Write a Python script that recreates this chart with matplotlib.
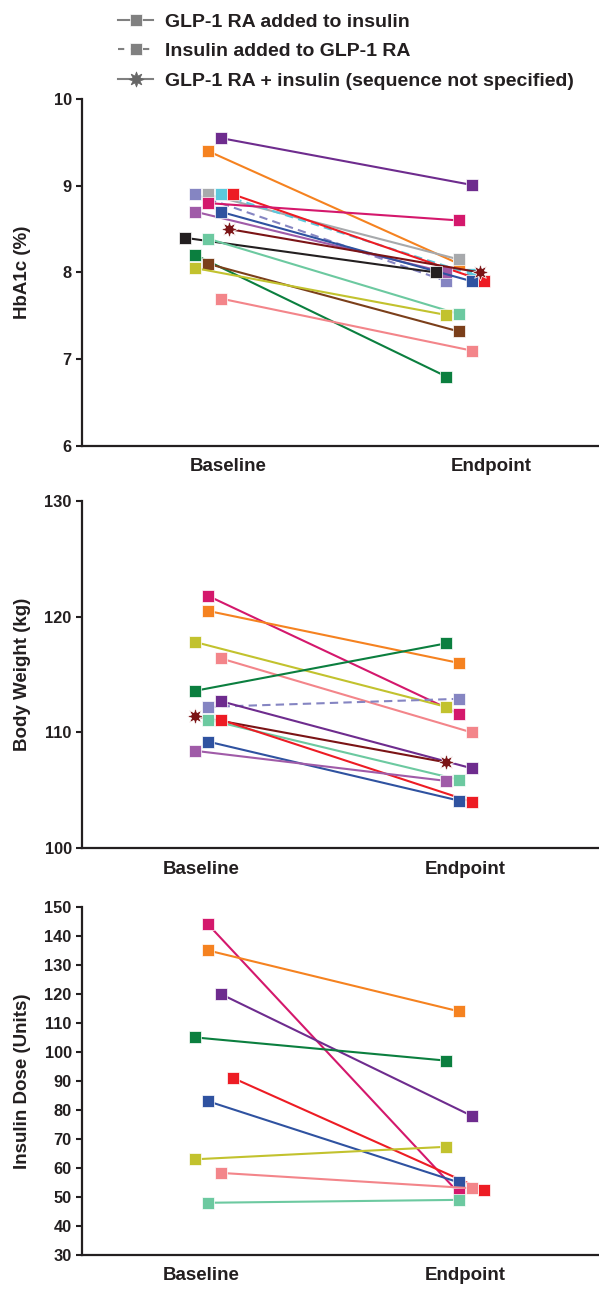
import numpy as np
import matplotlib
matplotlib.use('Agg')
import matplotlib.pyplot as plt
from matplotlib.lines import Line2D

plt.rcParams['font.family'] = ['Liberation Sans', 'DejaVu Sans']
plt.rcParams['font.weight'] = 'bold'
plt.rcParams['axes.labelweight'] = 'bold'

INK = '#231f20'

# studies are keyed by the colour they carry in every panel
colors = {
    'purple': '#6e2c8e', 'orange': '#f58220', 'slate': '#8585c2', 'gray': '#a7a9ac',
    'cyan': '#5bc8dc', 'red': '#ed1c24', 'magenta': '#d4186c', 'lilac': '#a05ba8',
    'blue': '#2f52a0', 'darkred': '#7b1416', 'black': '#231f20', 'mint': '#6cc9a0',
    'green': '#0b7f3f', 'brown': '#7b3f1a', 'olive': '#c2c22e', 'salmon': '#f3858a',
}
# insulin added to GLP-1 RA -> dashed, sequence not specified -> star
dashed = ['slate', 'cyan']
starred = ['darkred']

categories = ['Baseline', 'Endpoint']

# HbA1c (%)
hba1c_study = ['purple', 'orange', 'slate', 'gray', 'cyan', 'red', 'magenta', 'lilac',
               'blue', 'darkred', 'black', 'mint', 'green', 'brown', 'olive', 'salmon']
hba1c_base = [9.55, 9.40, 8.90, 8.90, 8.90, 8.90, 8.80, 8.70, 8.70, 8.50, 8.40, 8.39, 8.20, 8.10, 8.05, 7.70]
hba1c_end = [9.01, 8.10, 7.90, 8.15, 7.98, 7.90, 8.60, 8.00, 7.90, 8.00, 8.00, 7.52, 6.80, 7.32, 7.51, 7.10]

# Body weight (kg)
bw_study = ['magenta', 'orange', 'olive', 'salmon', 'green', 'slate', 'purple', 'darkred',
            'mint', 'red', 'blue', 'lilac']
bw_base = [121.8, 120.5, 117.8, 116.4, 113.6, 112.2, 112.7, 111.4, 111.1, 111.1, 109.2, 108.4]
bw_end = [111.6, 116.0, 112.2, 110.0, 117.7, 112.9, 106.9, 107.4, 105.9, 104.0, 104.1, 105.8]

# Insulin dose (units)
dose_study = ['magenta', 'orange', 'purple', 'green', 'red', 'blue', 'olive', 'salmon', 'mint']
dose_base = [144, 135, 120, 105, 91, 83, 63, 58.3, 48]
dose_end = [51.3, 114, 78, 97, 52.3, 55, 67.3, 53, 49]

# horizontal jitter (in steps) so overlapping markers stay visible
hba1c_jit_base = [1, 0, -1, 0, 1, 2, 0, -1, 1, 1.7, -1.85, 0, -1, 0, -1, 1]
hba1c_jit_end = [1, 0, -1, 0, 1, 2, 0, -1, 1, 1.7, -1.8, 0, -1, 0, -1, 1]
bw_jit_base = [0, 0, -1, 1, -1, 0, 1, -1, 0, 1, 0, -1]
bw_jit_end = [0, 0, -1, 1, -1, 0, 1, -1, 0, 1, 0, -1]
dose_jit_base = [0, 0, 1, -1, 2, 0, -1, 1, 0]
dose_jit_end = [0, 0, 1, -1, 2, 0, -1, 1, 0]
STEP = 0.05


def draw_panel(ax, study, base, end, jb, je):
    for s, b, e, ob, oe in zip(study, base, end, jb, je):
        c = colors[s]
        ls = '--' if s in dashed else '-'
        if s in starred:
            mk, ms = (8, 1, 0), 12
        else:
            mk, ms = 's', 9
        ax.plot([1 + ob * STEP, 2 + oe * STEP], [b, e], color=c, ls=ls, lw=1.5,
                marker=mk, ms=ms, mfc=c, mec='white', mew=0.5,
                dashes=(4, 2.5) if ls == '--' else (None, None))


fig = plt.figure(figsize=(5.99, 12.89), dpi=100)

panels = [
    (hba1c_study, hba1c_base, hba1c_end, hba1c_jit_base, hba1c_jit_end,
     'HbA1c (%)', (6, 10), np.arange(6, 11, 1), [1.08, 2.13], [0.6540, 0.2692]),
    (bw_study, bw_base, bw_end, bw_jit_base, bw_jit_end,
     'Body Weight (kg)', (100, 130), np.arange(100, 131, 10), [0.972, 2.024], [0.3421, 0.2692]),
    (dose_study, dose_base, dose_end, dose_jit_base, dose_jit_end,
     'Insulin Dose (Units)', (30, 150), np.arange(30, 151, 10), [0.972, 2.024], [0.0264, 0.2700]),
]

for study, base, end, jb, je, ylab, ylim, yt, xt, (bot, h) in panels:
    ax = fig.add_axes([0.137, bot, 0.863, h])
    draw_panel(ax, study, base, end, jb, je)
    ax.set_xlim(0.498, 2.558)
    ax.set_ylim(*ylim)
    ax.set_yticks(yt)
    ax.set_xticks(xt)
    ax.set_xticklabels(categories)
    for sp in ['top', 'right']:
        ax.spines[sp].set_visible(False)
    for sp in ['left', 'bottom']:
        ax.spines[sp].set_linewidth(1.6)
        ax.spines[sp].set_color(INK)
    ax.tick_params(axis='y', direction='out', length=4.5, width=1.5, color=INK,
                   labelsize=11.8, labelcolor=INK, pad=3)
    ax.tick_params(axis='x', length=0, labelsize=13.5, labelcolor=INK, pad=9)
    ax.set_ylabel(ylab, fontsize=13.5, color=INK)
    ax.yaxis.set_label_coords(-0.098, 0.5)
    for ln in ax.lines:
        ln.set_clip_on(False)

handles = [
    Line2D([], [], color='#808080', lw=1.5, marker='s', ms=8, mec='white', mew=0.5),
    Line2D([], [], color='#808080', lw=1.5, ls='--', dashes=(3, 3), marker='s', ms=8, mec='white', mew=0.5),
    Line2D([], [], color='#808080', lw=1.5, marker=(8, 1, 0), ms=11, mfc='#666666', mec='#666666', mew=0.5),
]
labels = ['GLP-1 RA added to insulin', 'Insulin added to GLP-1 RA',
          'GLP-1 RA + insulin (sequence not specified)']
leg = fig.legend(handles, labels, loc='upper left', bbox_to_anchor=(0.197, 0.990),
                 frameon=False, fontsize=14, handlelength=1.8, handletextpad=0.6,
                 labelspacing=0.62, borderpad=0, borderaxespad=0)
for t in leg.get_texts():
    t.set_color(INK)
    t.set_fontweight('bold')

fig.savefig('out.png', dpi=100, facecolor='white')
